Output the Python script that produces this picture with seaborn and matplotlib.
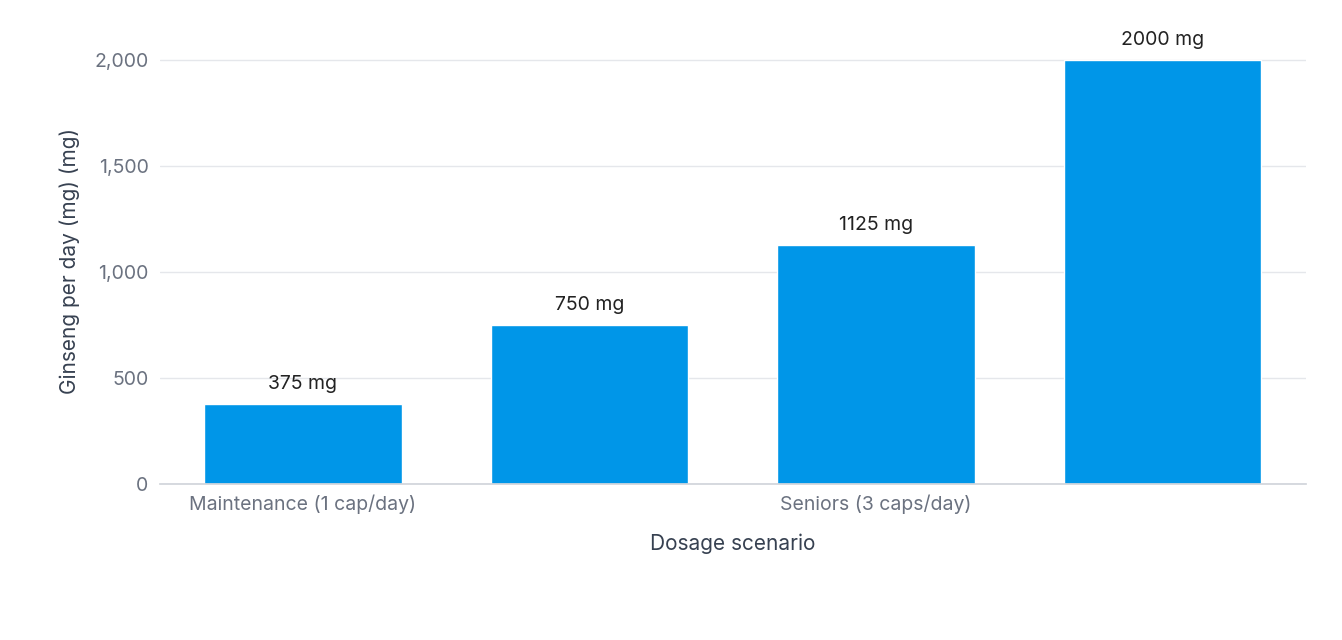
import matplotlib
matplotlib.use("Agg")
import matplotlib.pyplot as plt
import seaborn as sns
import pandas as pd

categories = ["Maintenance (1 cap/day)", "Standard (2 caps/day)", "Seniors (3 caps/day)", "Maximum (high dose)"]
values = [375, 750, 1125, 2000]
bar_labels = ["375 mg", "750 mg", "1125 mg", "2000 mg"]
tick_labels = ["Maintenance (1 cap/day)", "", "Seniors (3 caps/day)", ""]
y_ticks = [0, 500, 1000, 1500, 2000]

sns.set_theme(style="white")
plt.rcParams['font.family'] = ['Inter', 'DejaVu Sans']

df = pd.DataFrame({"cat": categories, "val": values})
fig = plt.figure(figsize=(13.42, 6.4), dpi=100)
ax = fig.add_axes([0.119, 0.244, 0.854, 0.696])
sns.barplot(data=df, x="cat", y="val", color="#0096E8", saturation=1, width=0.69, ax=ax)
ax.set_ylim(0, 2100)
ax.set_yticks(y_ticks)
ax.set_yticklabels([f"{v:,}" for v in y_ticks])
ax.set_xticks(range(len(categories)))
ax.set_xticklabels(tick_labels)
ax.tick_params(axis='both', colors="#6b7280", labelsize=14, length=0, pad=8)
ax.yaxis.grid(True, color="#e5e7eb", linewidth=1)
ax.set_axisbelow(True)
for s in ["left", "right", "top"]:
    ax.spines[s].set_visible(False)
ax.spines["bottom"].set_color("#d1d5db")
ax.set_xlabel("Dosage scenario", fontsize=15, color="#374151", labelpad=14)
ax.set_ylabel("Ginseng per day (mg) (mg)", fontsize=15, color="#374151", labelpad=10)
for p, lab in zip(ax.patches, bar_labels):
    ax.annotate(lab, (p.get_x() + p.get_width() / 2, p.get_height()), xytext=(0, 8),
                textcoords="offset points", ha="center", va="bottom", fontsize=14, color="#222222")
fig.savefig("out.png", dpi=100)
